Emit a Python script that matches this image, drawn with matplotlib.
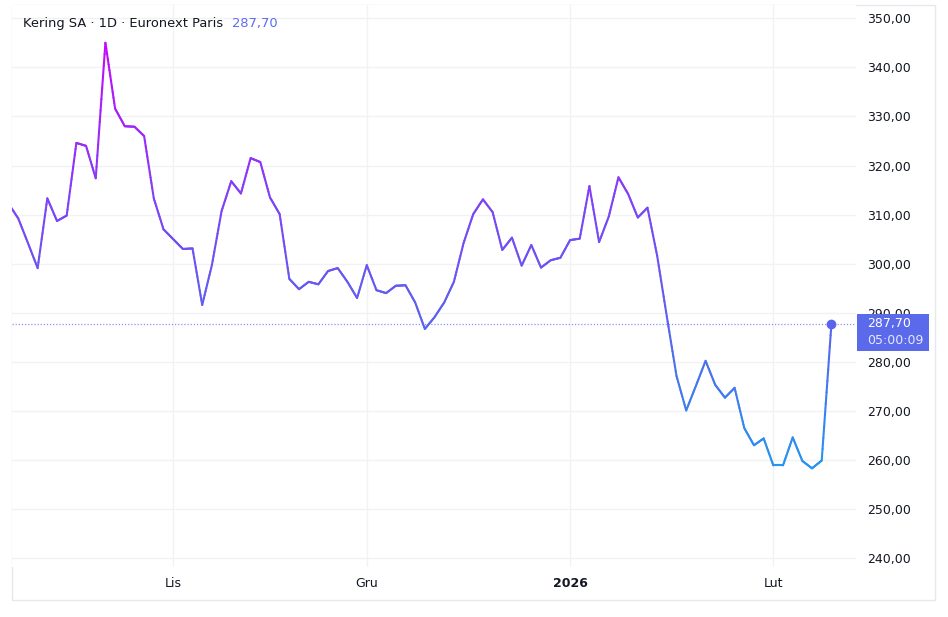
import numpy as np
import matplotlib
matplotlib.use("Agg")
import matplotlib.pyplot as plt
from matplotlib.collections import LineCollection
from matplotlib.colors import LinearSegmentedColormap, Normalize
from matplotlib.patches import Rectangle
from matplotlib.ticker import FuncFormatter

# Kering SA, daily close on Euronext Paris (first session is cut by the left edge)
close = [312.2, 309.2, 304.2, 299.1, 313.3, 308.7, 309.8, 324.6, 324.0, 317.4,
         345.0, 331.6, 328.0, 327.9, 326.0, 313.3, 307.0, 305.0, 303.0, 303.1,
         291.6, 299.7, 310.7, 316.8, 314.3, 321.5, 320.7, 313.5, 310.1, 296.9,
         294.8, 296.3, 295.8, 298.5, 299.1, 296.3, 293.0, 299.7, 294.6, 294.0,
         295.5, 295.6, 292.1, 286.7, 289.1, 292.1, 296.3, 304.2, 310.1, 313.1,
         310.5, 302.8, 305.3, 299.6, 303.8, 299.2, 300.7, 301.2, 304.8, 305.1,
         315.8, 304.4, 309.6, 317.6, 314.2, 309.4, 311.4, 301.6, 289.2, 277.1,
         270.1, 275.1, 280.2, 275.3, 272.7, 274.7, 266.5, 263.0, 264.4, 258.9,
         258.9, 264.6, 259.8, 258.3, 259.9, 287.7]

# first session of each month (index into close)
month_pos = [17, 37, 58, 79]
month_labels = ["Lis", "Gru", "2026", "Lut"]
price_ticks = [240, 250, 260, 270, 280, 290, 300, 310, 320, 330, 340, 350]

last_price = "287,70"
countdown = "05:00:09"

W, H = 948, 617
fig = plt.figure(figsize=(W / 100, H / 100), dpi=100)
fig.patch.set_facecolor("white")

# plot pane in pixel coords: x 12..856, y 5..567
ax = fig.add_axes([12 / W, 1 - 567 / H, (856 - 12) / W, (567 - 5) / H])
ax.set_facecolor("white")
for s in ax.spines.values():
    s.set_visible(False)

x = np.arange(len(close))
y = np.array(close)

# value based gradient, sub-divide segments so the colour changes smoothly
cmap = LinearSegmentedColormap.from_list(
    "kering", [(0.0, "#1E9BF0"), (0.35, "#5A63EE"), (0.6, "#7B46F5"), (1.0, "#CC00FF")])
norm = Normalize(255, 348)
segs, vals = [], []
n_sub = 12
for i in range(len(x) - 1):
    t = np.linspace(0, 1, n_sub + 1)
    xs = x[i] + (x[i + 1] - x[i]) * t
    ys = y[i] + (y[i + 1] - y[i]) * t
    for k in range(n_sub):
        segs.append([(xs[k], ys[k]), (xs[k + 1], ys[k + 1])])
        vals.append((ys[k] + ys[k + 1]) / 2)
lc = LineCollection(segs, cmap=cmap, norm=norm, linewidths=1.5,
                    capstyle="round", joinstyle="round", zorder=3)
lc.set_array(np.array(vals))
ax.add_collection(lc)

# last price marker and dotted price line
ax.axhline(y[-1], color="#8C93F2", lw=0.9, linestyle=(0, (1, 1.5)), zorder=2)
ax.plot([x[-1]], [y[-1]], "o", color="#5A63EE", markersize=6, zorder=4)

ax.set_xlim(0.35, 87.54)
ax.set_ylim(238.2, 352.7)

ax.set_xticks(month_pos)
ax.set_xticklabels(month_labels)
ax.get_xticklabels()[2].set_fontweight("bold")
ax.set_yticks(price_ticks)
ax.yaxis.tick_right()
ax.yaxis.set_major_formatter(FuncFormatter(lambda v, p: f"{v:.2f}".replace(".", ",")))
ax.tick_params(axis="y", length=0, pad=8, labelsize=9, labelcolor="#131722")
ax.tick_params(axis="x", length=0, pad=7, labelsize=9, labelcolor="#131722")
ax.grid(color="#F2F2F5", linewidth=1, zorder=0)

# outer frame
fig.add_artist(Rectangle((12 / W, 1 - 600 / H), (935 - 12) / W, (600 - 5) / H,
                         transform=fig.transFigure, fill=False,
                         edgecolor="#E6E8EE", lw=1, zorder=0))

# price label on the axis
fig.add_artist(Rectangle((857 / W, 1 - 351 / H), (929 - 857) / W, (351 - 314) / H,
                         transform=fig.transFigure, facecolor="#5B6AEB",
                         edgecolor="none", zorder=5))
fig.text(867 / W, 1 - 323 / H, last_price, color="white", fontsize=9,
         va="center", ha="left", zorder=6)
fig.text(867 / W, 1 - 340 / H, countdown, color="white", alpha=0.85, fontsize=9,
         va="center", ha="left", zorder=6)

# title
fig.text(23 / W, 1 - 24 / H, "Kering SA · 1D · Euronext Paris", color="#131722",
         fontsize=9.4, va="center", ha="left")
fig.text(232 / W, 1 - 24 / H, last_price, color="#5B6CF0",
         fontsize=9.4, va="center", ha="left")

fig.savefig("out.png", dpi=100)
